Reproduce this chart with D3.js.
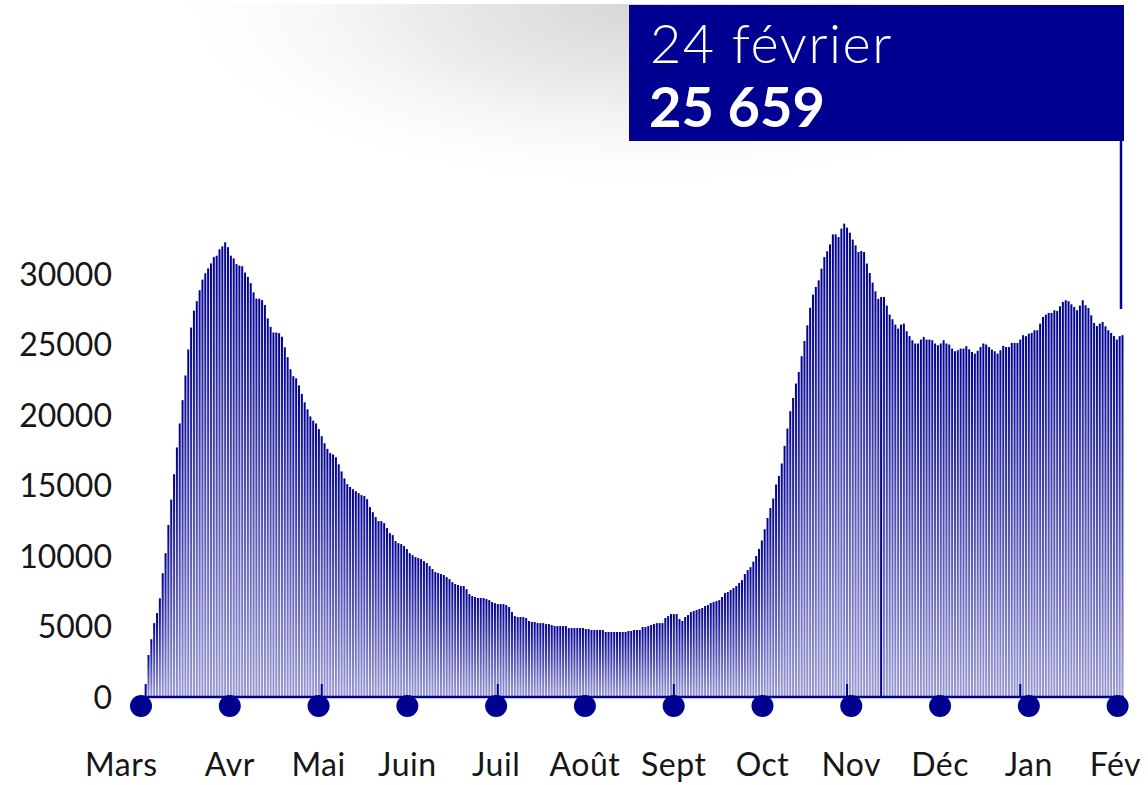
<!DOCTYPE html>
<html>
<head>
<meta charset="utf-8">
<script src="https://cdn.jsdelivr.net/npm/d3@7"></script>
<style>
  body { margin: 0; background: #fff; }
  svg text { font-family: "Lato", "Noto Sans", sans-serif; }
</style>
</head>
<body>
<div id="chart"></div>
<script>
// Set up SVG params
var svgWdt = 1148;
var svgHgt = 785;

// Daily hospital counts, first day 18 March 2020, last day 24 February 2021
var startDay = "2020-03-18";
var dayValues = [
    2980, 4100, 5240, 5950, 7000, 8780, 10200, 12200, 14000, 15800,
    17700, 19400, 21050, 22800, 24650, 26200, 27400, 28070, 28850, 29600,
    30050, 30400, 30750, 31200, 31300, 31750, 31960, 32250, 31900, 31300,
    31100, 30700, 30600, 30550, 30100, 29800, 29350, 28700, 28250, 28250,
    28150, 27800, 26850, 26250, 25850, 25850, 25800, 25550, 24800, 24100,
    23250, 22750, 22600,
    22100, 21500, 20900, 20400, 19900, 19600, 19400, 19000, 18500, 18000,
    17600, 17300, 17200, 17000, 16500, 16000, 15500, 15100, 14900,
    14740, 14600, 14460, 14320, 14250, 14030, 13470, 13110, 12760, 12470,
    12470, 12330, 11980, 11620, 11480, 11060, 10910, 10840, 10700, 10490,
    10200, 10060, 9920, 9850, 9780, 9640, 9500, 9280, 9070, 8860,
    8790, 8720, 8650, 8500, 8360, 8150, 8010, 7940, 7870, 7870,
    7650, 7300, 7160, 7090, 7020, 7020, 7020, 6950, 6870, 6730,
    6660, 6590, 6590, 6590, 6520, 6380, 6020, 5740, 5670, 5670,
    5670, 5600, 5390, 5320, 5320, 5240, 5240, 5240, 5170, 5170,
    5100, 5030, 5030, 5030, 5030, 5030, 4890, 4890, 4890, 4890,
    4890, 4890, 4820, 4820, 4750, 4750, 4750, 4750, 4750, 4610,
    4610, 4610, 4610, 4610, 4610, 4610, 4610, 4680, 4680, 4750,
    4750, 4750, 4960, 4960, 5030, 5100, 5170, 5240, 5240, 5240,
    5600, 5740, 5880, 5880, 5880, 5530, 5390, 5670, 5810, 6020,
    6100, 6170, 6240, 6310, 6450, 6520, 6660, 6730, 6800, 6870,
    7090, 7370, 7440, 7580, 7730, 7870, 8080, 8290, 8720, 9000,
    9210,
    9600, 10000, 10500, 11100, 11900, 12700, 13400,
    14080, 15070, 15680, 16560, 17810, 19040, 20270, 21210, 22230, 23050,
    24170, 25250, 26360, 27610, 28540, 29080, 29550, 30380, 31200, 31610,
    32100, 32810, 32810, 32620, 33220, 33570, 33290, 32930, 32440, 32030,
    31560, 31630, 31560, 30740, 30070, 29390, 28770, 28230, 28370, 28370,
    27760, 27120, 26790, 26410, 26130, 26410, 26480, 25940, 25600, 25300,
    25070, 25070, 25350, 25540, 25350, 25350, 25300, 25070, 24950, 25070,
    25300, 25070, 25000, 24710, 24520, 24590, 24710, 24710, 24880, 24660,
    24470, 24350, 24560, 24820, 25070, 25000, 24820, 24640, 24520, 24350,
    24590, 24900, 24820, 24820, 25110, 25110, 25110, 25350, 25660, 25590,
    25770, 25820, 26010, 26010, 26480, 26950, 27120, 27240, 27240, 27430,
    27380, 27710, 28020, 28140, 28070, 27850, 27660, 27430, 27760, 28140,
    27780, 27590, 27070, 26530, 26310, 26480, 26600, 26290, 26010, 25820,
    25600, 25350, 25590, 25659
];

// Axis labels
var yTicks = [0, 5000, 10000, 15000, 20000, 25000, 30000];
var monthLbls = ["Mars", "Avr", "Mai", "Juin", "Juil", "Août", "Sept", "Oct", "Nov", "Déc", "Jan", "Fév"];
var tickDays = ["2020-03-17", "2020-05-18", "2020-07-19", "2020-09-19", "2020-11-19", "2021-01-19"];

// Tooltip content
var tipDate = "24 février";
var tipValue = "25 659";
var hoverIndex = 258;

var blue = "#000091";
var parseDay = d3.timeParse("%Y-%m-%d");
var day0 = parseDay(startDay);

var data = dayValues.map((v, i) => ({ date: d3.timeDay.offset(day0, i), value: v }));

// Set up SVG in page
var svg = d3.select("#chart").append("svg")
    .attr("width", svgWdt)
    .attr("height", svgHgt);

var defs = svg.append("defs");

// Bar fill: dark at the top, paler at the bottom
var grad = defs.append("linearGradient")
    .attr("id", "barGrad")
    .attr("x1", 0).attr("y1", 0).attr("x2", 0).attr("y2", 1);
grad.append("stop").attr("offset", "0%").attr("stop-color", blue).attr("stop-opacity", 1);
grad.append("stop").attr("offset", "100%").attr("stop-color", blue).attr("stop-opacity", 0.4);

// Soft grey shadow in the top left
var shade = defs.append("radialGradient")
    .attr("id", "shade")
    .attr("cx", 0.5).attr("cy", 0.5).attr("r", 0.5);
shade.append("stop").attr("offset", "0%").attr("stop-color", "#d6d6d6");
shade.append("stop").attr("offset", "45%").attr("stop-color", "#ececec");
shade.append("stop").attr("offset", "100%").attr("stop-color", "#fff").attr("stop-opacity", 0);

defs.append("clipPath").attr("id", "shadeClip")
    .append("rect").attr("x", 0).attr("y", 4).attr("width", svgWdt).attr("height", 300);

svg.append("ellipse")
    .attr("clip-path", "url(#shadeClip)")
    .attr("cx", 640).attr("cy", 4)
    .attr("rx", 500).attr("ry", 200)
    .attr("fill", "url(#shade)");

// Scales
var xScale = d3.scaleTime()
    .domain([data[0].date, data[data.length - 1].date])
    .range([148.5, 1122.5]);

var yScale = d3.scaleLinear()
    .domain([0, 30000])
    .range([697, 274]);

var monthScale = d3.scalePoint()
    .domain(monthLbls)
    .range([141, 1117.6]);

// Bars
svg.append("g").selectAll("rect").data(data)
    .enter()
    .append("rect")
        .attr("x", d => xScale(d.date) - 1)
        .attr("y", d => yScale(d.value))
        .attr("width", 2)
        .attr("height", d => yScale(0) - yScale(d.value))
        .attr("fill", (d, i) => i == hoverIndex ? blue : "url(#barGrad)");

// Baseline
svg.append("line")
    .attr("x1", 147).attr("x2", 1124)
    .attr("y1", yScale(0)).attr("y2", yScale(0))
    .attr("stroke", blue)
    .attr("stroke-width", 2.5);

// Small ticks on the baseline
svg.append("g").selectAll("line").data(tickDays)
    .enter()
    .append("line")
        .attr("x1", d => xScale(parseDay(d)))
        .attr("x2", d => xScale(parseDay(d)))
        .attr("y1", yScale(0))
        .attr("y2", yScale(0) - 13)
        .attr("stroke", blue)
        .attr("stroke-width", 2);

// Y axis labels
var yAxis = d3.axisLeft(yScale)
    .tickValues(yTicks)
    .tickFormat(d3.format("d"))
    .tickSize(0)
    .tickPadding(0);

var yGrp = svg.append("g")
    .attr("transform", "translate(112, 1)")
    .call(yAxis);
yGrp.select(".domain").remove();
yGrp.selectAll("text")
    .attr("fill", "#161616")
    .style("font-size", "32px")
    .style("font-family", "Lato, sans-serif");

// Month dots
svg.append("g").selectAll("circle").data(monthLbls)
    .enter()
    .append("circle")
        .attr("cx", d => monthScale(d))
        .attr("cy", 706)
        .attr("r", 11)
        .attr("fill", blue);

// Month labels: first one starts at the left edge, last one stops at the right edge
svg.append("g").selectAll("text").data(monthLbls)
    .enter()
    .append("text")
        .attr("y", 776)
        .attr("text-anchor", (d, i) => i == 0 ? "start" : "middle")
        .attr("fill", "#161616")
        .style("font-size", "32px")
        .style("letter-spacing", "0.5px")
        .text(d => d)
        .attr("x", function(d, i) {
            if (i == 0) return 85;
            var half = this.getComputedTextLength() / 2;
            return Math.min(monthScale(d), 1141 - half);
        });

// Tooltip box with pointer line
var lastX = xScale(data[data.length - 1].date) - 1.5;
svg.append("line")
    .attr("x1", lastX).attr("x2", lastX)
    .attr("y1", 140).attr("y2", 309)
    .attr("stroke", blue)
    .attr("stroke-width", 2.5);

svg.append("rect")
    .attr("x", 629).attr("y", 5)
    .attr("width", 495).attr("height", 136)
    .attr("fill", blue);

svg.append("text")
    .attr("x", 650).attr("y", 63)
    .attr("fill", "#fff")
    .style("font-size", "54px")
    .style("font-weight", 300)
    .style("letter-spacing", "1.5px")
    .text(tipDate);

svg.append("text")
    .attr("x", 649).attr("y", 127)
    .attr("fill", "#fff")
    .style("font-size", "56px")
    .style("font-weight", 700)
    .text(tipValue);
</script>
</body>
</html>
